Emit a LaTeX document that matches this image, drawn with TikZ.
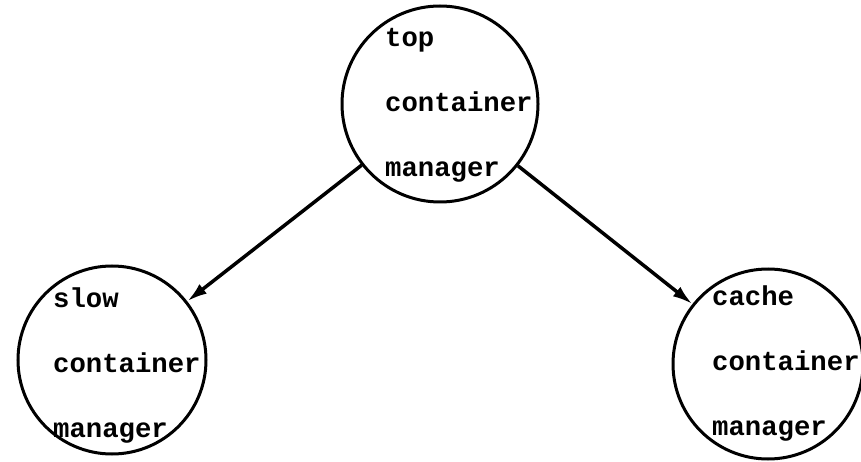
\documentclass[tikz,border=0pt]{standalone}
\usepackage{fontspec}
\setmonofont{Liberation Mono}
\usetikzlibrary{arrows.meta,positioning}

\begin{document}
\begin{tikzpicture}[x=1pt,y=-1pt,
    mgr/.style={draw,circle,line width=3pt,inner sep=0pt},
    lbl/.style={align=left,anchor=base west,inner sep=0pt,
      font=\ttfamily\bfseries\fontsize{27.3}{65}\selectfont},
    call/.style={line width=3.5pt,-{Latex[length=20pt,width=12pt]}}]
  \useasboundingbox[fill=white] (0,0) rectangle (861,462);

  % the three managers
  \node[mgr,minimum size=196pt] (top) at (440,104) {};
  \node[mgr,minimum size=188pt] (slow) at (112,360) {};
  \node[mgr,minimum size=190pt] (cache) at (768,364) {};

  % last line sits on the base
  \node[lbl] (toptext) at (385,177) {top\\container\\manager};
  \node[lbl] (slowtext) at (53,437) {slow\\container\\manager};
  \node[lbl] (cachetext) at (712,435) {cache\\container\\manager};

  \draw[call] (top) -- (slow);
  \draw[call] (top) -- (cache);
\end{tikzpicture}
\end{document}
